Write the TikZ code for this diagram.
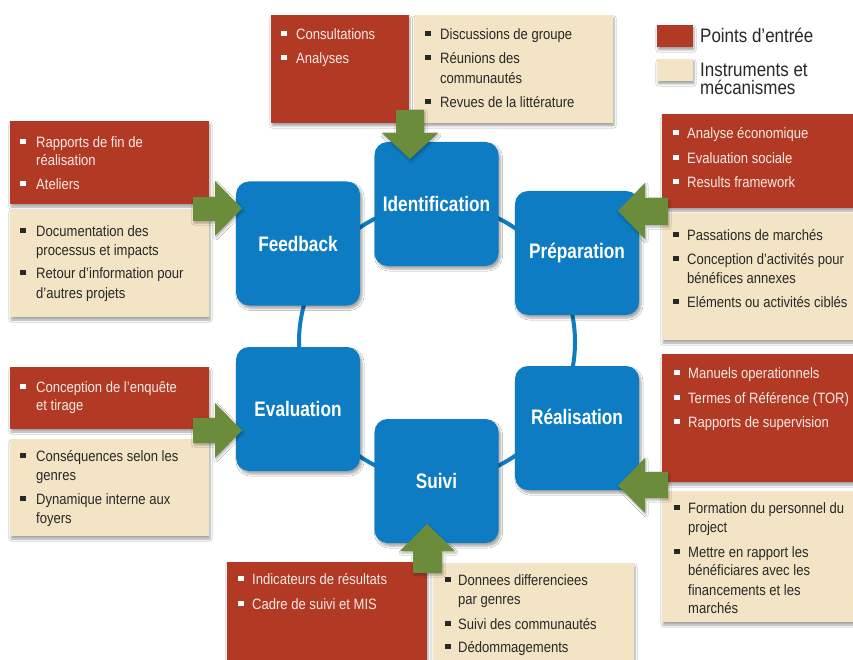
\documentclass[tikz,border=0pt]{standalone}
\usepackage{fontspec}
\setmainfont{Liberation Sans}
\newfontfamily\cf[FakeStretch=0.87]{Liberation Sans}
\newfontfamily\cfb[FakeStretch=0.82]{Liberation Sans}
\usetikzlibrary{shadows.blur}
\definecolor{redbox}{RGB}{178,58,36}
\definecolor{beigebox}{RGB}{242,228,196}
\definecolor{greenar}{RGB}{107,140,59}
\definecolor{bluebx}{RGB}{14,124,194}
\definecolor{redtxt}{RGB}{248,234,230}
\definecolor{darktxt}{RGB}{40,40,40}
\newcommand\rl[4]{\node[rtxt] (#1) at (#2,{#3+5.5}) {#4};}
\newcommand\bl[4]{\node[btxt] (#1) at (#2,{#3+5.5}) {#4};}
\newcommand\bu[3]{\fill[#1] ({#2-2.8},{#3-3.3}) rectangle ({#2+2.8},{#3+2.3});}
\begin{document}
\begin{tikzpicture}[x=1pt,y=-1pt,
  shad/.style={blur shadow={shadow xshift=1pt,shadow yshift=-3pt,shadow blur steps=6,shadow opacity=35}},
  redp/.style={fill=redbox,shad},
  beigep/.style={fill=beigebox,shad},
  arrowp/.style={fill=greenar,blur shadow={shadow xshift=1pt,shadow yshift=-2pt,shadow blur steps=5,shadow opacity=30}},
  bluebox/.style={fill=bluebx,rounded corners=13pt,minimum width=124pt,minimum height=124pt,inner sep=0pt,
     text=white,font=\cfb\bfseries\fontsize{21}{24}\selectfont,
     blur shadow={shadow xshift=2pt,shadow yshift=-3pt,shadow blur steps=6,shadow opacity=35}},
  rtxt/.style={anchor=base west,inner sep=0pt,text=redtxt,font=\cf\fontsize{15}{18}\selectfont},
  btxt/.style={anchor=base west,inner sep=0pt,text=darktxt,font=\cf\fontsize{15}{18}\selectfont},
  legtxt/.style={anchor=base west,inner sep=0pt,text=darktxt,font=\cf\fontsize{19.5}{22}\selectfont},
  ring/.style={draw=bluebx,line width=4pt}]
\useasboundingbox (0,0) rectangle (853,660);
\fill[white] (0,0) rectangle (853,660);

% ring
\coordinate (ringc) at (437,342);
\draw[ring] (ringc) circle[radius=138pt];

% blue boxes
\node[bluebox] (ident) at (436.5,204) {Identification};
\node[bluebox] (feed) at (298,243.5) {Feedback};
\node[bluebox] (prep) at (577,253) {Préparation};
\node[bluebox] (eval) at (298,409) {Evaluation};
\node[bluebox] (suivi) at (436.5,481) {Suivi};
\node[bluebox] (real) at (577,428) {\raisebox{22pt}{Réalisation}};

% text boxes
\path[redp] (271,15) rectangle (409,123);
\path[beigep] (414,15) rectangle (613,123);
\path[redp] (10,121) rectangle (209,204);
\path[beigep] (10,210) rectangle (209,317);
\path[redp] (662,114) rectangle (860,208);
\path[beigep] (662,213) rectangle (860,340);
\path[redp] (10,367) rectangle (209,429);
\path[beigep] (10,439) rectangle (209,536);
\path[redp] (662,354) rectangle (860,482);
\path[beigep] (662,491) rectangle (860,622);
\path[redp] (227,562) rectangle (427,670);
\path[beigep] (433,563) rectangle (634,670);

% top
\bu{white}{284}{34}\rl{t1}{296}{34}{Consultations}
\bu{white}{284}{58}\rl{t2}{296}{58}{Analyses}
\bu{darktxt}{428}{34}\bl{t3}{440}{34}{Discussions de groupe}
\bu{darktxt}{428}{58}\bl{t4}{440}{58}{Réunions des}
\bl{t5}{440}{78}{communautés}
\bu{darktxt}{428}{102}\bl{t6}{440}{102}{Revues de la littérature}

% feedback side
\bu{white}{23}{142}\rl{f1}{36}{142}{Rapports de fin de}
\rl{f2}{36}{160}{réalisation}
\bu{white}{23}{184}\rl{f3}{36}{184}{Ateliers}
\bu{darktxt}{23}{231}\bl{f4}{36}{231}{Documentation des}
\bl{f5}{36}{250}{processus et impacts}
\bu{darktxt}{23}{273}\bl{f6}{36}{273}{Retour d’information pour}
\bl{f7}{36}{293}{d’autres projets}

% preparation side
\bu{white}{676}{133}\rl{p1}{687}{133}{Analyse économique}
\bu{white}{676}{158}\rl{p2}{687}{158}{Evaluation sociale}
\bu{white}{676}{182}\rl{p3}{687}{182}{Results framework}
\bu{darktxt}{676}{235}\bl{p4}{687}{235}{Passations de marchés}
\bu{darktxt}{676}{259}\bl{p5}{687}{259}{Conception d’activités pour}
\bl{p6}{687}{278}{bénéfices annexes}
\bu{darktxt}{676}{302}\bl{p7}{687}{302}{Eléments ou activités ciblés}

% evaluation side
\bu{white}{23}{387}\rl{e1}{36}{387}{Conception de l’enquête}
\rl{e2}{36}{405}{et tirage}
\bu{darktxt}{23}{456}\bl{e3}{36}{456}{Conséquences selon les}
\bl{e4}{36}{475}{genres}
\bu{darktxt}{23}{499}\bl{e5}{36}{499}{Dynamique interne aux}
\bl{e6}{36}{518}{foyers}

% realisation side
\bu{white}{677}{373}\rl{r1}{688}{373}{Manuels operationnels}
\bu{white}{677}{398}\rl{r2}{688}{398}{Termes of Référence (TOR)}
\bu{white}{677}{422}\rl{r3}{688}{422}{Rapports de supervision}
\bu{darktxt}{677}{508}\bl{r4}{688}{508}{Formation du personnel du}
\bl{r5}{688}{527}{project}
\bu{darktxt}{677}{552}\bl{r6}{688}{552}{Mettre en rapport les}
\bl{r7}{688}{570}{bénéficiares avec les}
\bl{r8}{688}{590}{financements et les}
\bl{r9}{688}{608}{marchés}

% suivi side
\bu{white}{241}{579}\rl{s1}{252}{579}{Indicateurs de résultats}
\bu{white}{241}{604}\rl{s2}{252}{604}{Cadre de suivi et MIS}
\bu{darktxt}{448}{580}\bl{s3}{458}{580}{Donnees differenciees}
\bl{s4}{458}{599}{par genres}
\bu{darktxt}{448}{624}\bl{s5}{458}{624}{Suivi des communautés}
\bu{darktxt}{448}{647}\bl{s6}{458}{647}{Dédommagements}

% legend
\path[redp] (657,25) rectangle (693,47);
\path[beigep] (657,59) rectangle (693,81);
\node[legtxt] (leg1) at (700,43) {Points d’entrée};
\node[legtxt] (leg2) at (700,77) {Instruments et};
\node[legtxt] (leg3) at (700,95) {mécanismes};

% arrows
\path[arrowp] (396,110) -- (424,110) -- (424,133) -- (438,133) -- (410,159) -- (382,133) -- (396,133) -- cycle;
\path[arrowp] (193,197) -- (215,197) -- (215,181) -- (242,208.5) -- (215,236) -- (215,221) -- (193,221) -- cycle;
\path[arrowp] (193,418) -- (215,418) -- (215,403) -- (242,430.5) -- (215,458) -- (215,443) -- (193,443) -- cycle;
\path[arrowp] (668,198) -- (645,198) -- (645,183) -- (618,211) -- (645,239) -- (645,225) -- (668,225) -- cycle;
\path[arrowp] (668,472) -- (645,472) -- (645,458) -- (618,485.5) -- (645,513) -- (645,498) -- (668,498) -- cycle;
\path[arrowp] (413,573) -- (413,551) -- (400,551) -- (427,524) -- (455,551) -- (442,551) -- (442,573) -- cycle;
\end{tikzpicture}
\end{document}
